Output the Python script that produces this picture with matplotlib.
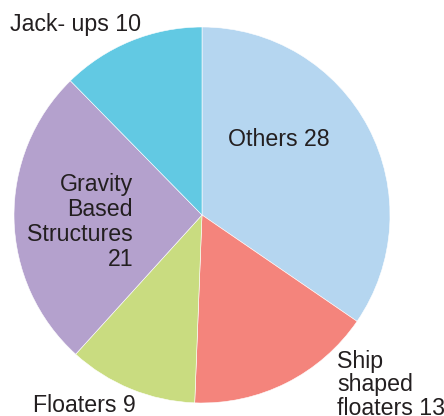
import matplotlib
matplotlib.use('Agg')
import matplotlib.pyplot as plt

# platform types, clockwise from 12 o'clock
labels = ['Others', 'Ship shaped floaters', 'Floaters', 'Gravity Based Structures', 'Jack- ups']
counts = [28, 13, 9, 21, 10]
colors = ['#b5d6f0', '#f4847c', '#c9dc80', '#b4a1cd', '#62c9e3']

plt.rcParams['font.family'] = ['Liberation Sans', 'DejaVu Sans']

W, H = 444, 416
fig = plt.figure(figsize=(W / 100, H / 100), dpi=100)
# pie centre at (202, 215) px, radius 188 px
r = 188
ax = fig.add_axes([(202 - r) / W, (H - 215 - r) / H, 2 * r / W, 2 * r / H])
ax.pie(counts, colors=colors, startangle=90, counterclock=False, radius=1,
       wedgeprops=dict(edgecolor='white', linewidth=0.4))
ax.set_xlim(-1, 1)
ax.set_ylim(-1, 1)
ax.set_aspect('equal')
ax.axis('off')


def px(x, y):
    return (x - 202) / r, (215 - y) / r


fs = 16.7
tc = '#231f20'
kw = dict(fontsize=fs, color=tc, va='baseline', clip_on=False)

x, y = px(10, 31)
ax.text(x, y, f'{labels[4]} {counts[4]}', ha='left', **kw)
x, y = px(228, 146)
ax.text(x, y, f'{labels[0]} {counts[0]}', ha='left', **kw)
x, y = px(133, 266)
ax.text(x, y, f'Gravity\nBased\nStructures\n{counts[3]}', ha='right',
        multialignment='right', linespacing=1.12, **kw)
x, y = px(337, 415)
ax.text(x, y, f'Ship\nshaped\nfloaters {counts[1]}', ha='left',
        multialignment='left', linespacing=1.04, **kw)
x, y = px(33, 412)
ax.text(x, y, f'{labels[2]} {counts[2]}', ha='left', **kw)

fig.savefig('out.png', dpi=100)
